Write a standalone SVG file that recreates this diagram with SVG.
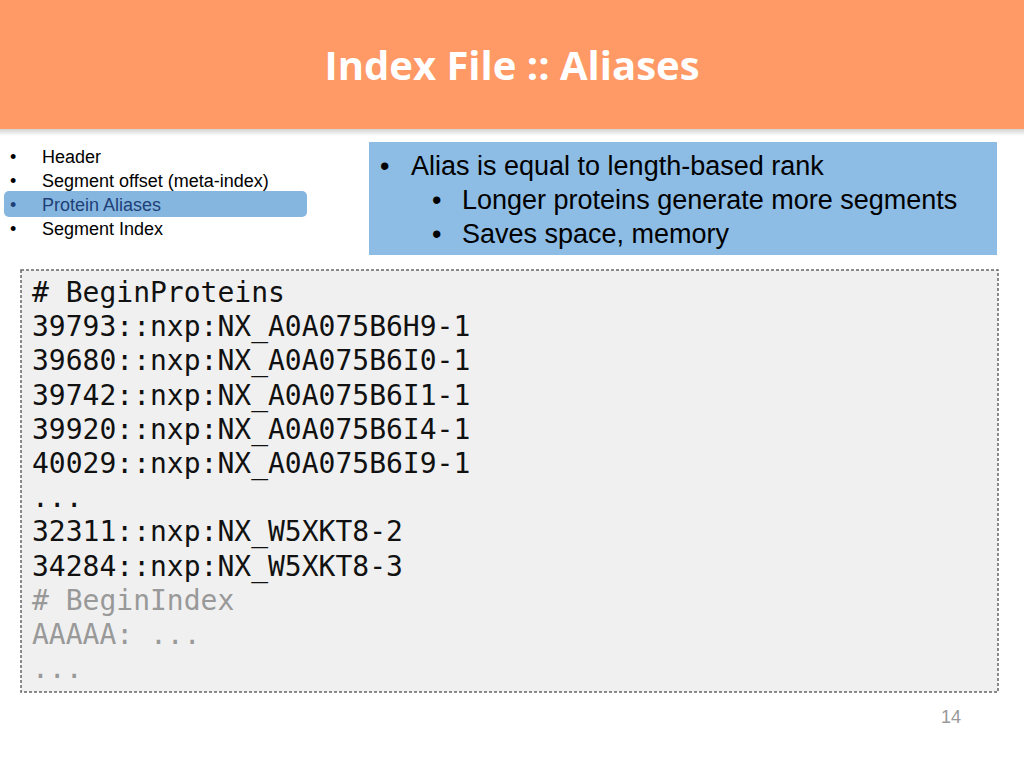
<svg xmlns="http://www.w3.org/2000/svg" width="1024" height="768" viewBox="0 0 1024 768">
<style>
.nav{font-family:"Liberation Sans",Arial,sans-serif;font-size:18px;fill:#000}
.bul{font-family:"Liberation Sans",Arial,sans-serif;font-size:27px;fill:#000}
.code{font-family:"DejaVu Sans Mono",monospace;font-size:28px;fill:#111}
.grey{fill:#999}
</style>
<defs>
<linearGradient id="sh" x1="0" y1="0" x2="0" y2="1"><stop offset="0" stop-color="#ccc"/><stop offset="1" stop-color="#fff"/></linearGradient>
</defs>
<rect width="1024" height="768" fill="#fff"/>
<rect x="0" y="128" width="1024" height="8" fill="url(#sh)"/>
<rect x="0" y="0" width="1024" height="129" fill="#ff9966"/>
<text x="512" y="80" text-anchor="middle" font-family="'Open Sans','Noto Sans',sans-serif" font-size="40" font-weight="bold" fill="#fff">Index File :: Aliases</text>
<g id="nav">
<rect x="4" y="191" width="303" height="26" rx="5" fill="#85b6e0"/>
<text class="nav" x="10" y="163">•</text><text class="nav" x="42" y="163">Header</text>
<text class="nav" x="10" y="187">•</text><text class="nav" x="42" y="187">Segment offset (meta-index)</text>
<text class="nav" x="10" y="211" fill="#1f3f77" style="fill:#1f3f77">•</text><text class="nav" x="42" y="211" style="fill:#1f3f77">Protein Aliases</text>
<text class="nav" x="10" y="235">•</text><text class="nav" x="42" y="235">Segment Index</text>
</g>
<g id="notes">
<rect x="369" y="142" width="628" height="113" fill="#8dbce4"/>
<text class="bul" x="380" y="175">•</text><text class="bul" x="411" y="175">Alias is equal to length-based rank</text>
<text class="bul" x="432" y="209">•</text><text class="bul" x="462" y="209">Longer proteins generate more segments</text>
<text class="bul" x="432" y="243">•</text><text class="bul" x="462" y="243">Saves space, memory</text>
</g>
<g id="code">
<rect x="21" y="270" width="977" height="422" fill="#f0f0f0" stroke="#666" stroke-width="1.5" stroke-dasharray="3,2"/>
<text class="code" x="32" y="302">
<tspan x="32" dy="0"># BeginProteins</tspan>
<tspan x="32" dy="34.2">39793::nxp:NX_A0A075B6H9-1</tspan>
<tspan x="32" dy="34.2">39680::nxp:NX_A0A075B6I0-1</tspan>
<tspan x="32" dy="34.2">39742::nxp:NX_A0A075B6I1-1</tspan>
<tspan x="32" dy="34.2">39920::nxp:NX_A0A075B6I4-1</tspan>
<tspan x="32" dy="34.2">40029::nxp:NX_A0A075B6I9-1</tspan>
<tspan x="32" dy="34.2">...</tspan>
<tspan x="32" dy="34.2">32311::nxp:NX_W5XKT8-2</tspan>
<tspan x="32" dy="34.2">34284::nxp:NX_W5XKT8-3</tspan>
<tspan x="32" dy="34.2" class="grey"># BeginIndex</tspan>
<tspan x="32" dy="34.2" class="grey">AAAAA: ...</tspan>
<tspan x="32" dy="34.2" class="grey">...</tspan>
</text>
</g>
<text x="951" y="723" text-anchor="middle" font-family="'Liberation Sans',Arial,sans-serif" font-size="18" fill="#999">14</text>
</svg>
